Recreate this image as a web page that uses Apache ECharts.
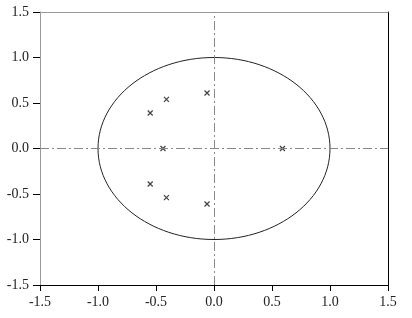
<!DOCTYPE html>
<html><head><meta charset="utf-8">
<script src="https://cdn.jsdelivr.net/npm/echarts@6/dist/echarts.min.js"></script>
<style>html,body{margin:0;padding:0;background:#fff}#c{width:412px;height:318px}</style>
</head><body><div id="c"></div>
<script>
var xTicks = [-1.5, -1.0, -0.5, 0.0, 0.5, 1.0, 1.5];
var yTicks = [-1.5, -1.0, -0.5, 0.0, 0.5, 1.0, 1.5];
var rootX = [-0.06, -0.41, -0.55, -0.44, -0.55, -0.41, -0.06, 0.59];
var rootY = [0.61, 0.54, 0.39, 0.00, -0.39, -0.54, -0.61, 0.00];
var circleCenter = [0, 0];
var circleRadius = 1;

var pts = rootX.map(function(x, i){ return [x, rootY[i]]; });
var font = '"Liberation Serif", "Times New Roman", serif';
var chart = echarts.init(document.getElementById('c'));
chart.setOption({
  animation: false,
  grid: {left: 40, right: 24, top: 12, bottom: 33},
  xAxis: [{
    type: 'value', min: xTicks[0], max: xTicks[xTicks.length-1], interval: 0.5,
    splitLine: {show: false},
    axisLine: {onZero: false, lineStyle: {color: '#000', width: 1}},
    axisTick: {inside: false, length: 6, lineStyle: {color: '#000'}},
    axisLabel: {margin: 10, fontFamily: font, fontSize: 14, color: '#222', formatter: function(v){return v.toFixed(1);}}
  }, {
    type: 'value', position: 'top', min: xTicks[0], max: xTicks[xTicks.length-1],
    splitLine: {show: false}, axisTick: {show: false}, axisLabel: {show: false},
    axisLine: {onZero: false, lineStyle: {color: '#999', width: 1}}
  }],
  yAxis: [{
    type: 'value', min: yTicks[0], max: yTicks[yTicks.length-1], interval: 0.5,
    splitLine: {show: false},
    axisLine: {onZero: false, lineStyle: {color: '#999', width: 1}},
    axisTick: {inside: false, length: 7, lineStyle: {color: '#000'}},
    axisLabel: {margin: 11, fontFamily: font, fontSize: 14, color: '#222', formatter: function(v){return v.toFixed(1);}}
  }, {
    type: 'value', position: 'right', min: yTicks[0], max: yTicks[yTicks.length-1],
    splitLine: {show: false}, axisTick: {show: false}, axisLabel: {show: false},
    axisLine: {onZero: false, lineStyle: {color: '#000', width: 1}}
  }],
  series: [{
    type: 'custom',
    data: [[circleCenter[0], circleCenter[1], circleRadius]],
    renderItem: function(params, api){
      var c = api.coord([api.value(0), api.value(1)]);
      var s = api.size([api.value(2), api.value(2)]);
      return {type: 'ellipse', shape: {cx: c[0], cy: c[1], rx: s[0], ry: s[1]},
        style: {fill: 'none', stroke: '#222', lineWidth: 1}};
    },
    silent: true, z: 2,
    markLine: {
      silent: true, symbol: ['none','none'], label: {show: false},
      lineStyle: {color: '#888', width: 1, type: [9, 3, 2, 3]},
      data: [{xAxis: 0}, {yAxis: 0}]
    }
  }, {
    type: 'scatter',
    data: pts,
    symbol: 'path://M0,0L10,10M10,0L0,10',
    symbolSize: 5,
    itemStyle: {color: 'none', borderColor: '#111', borderWidth: 1.2},
    z: 3
  }]
});
</script></body></html>
